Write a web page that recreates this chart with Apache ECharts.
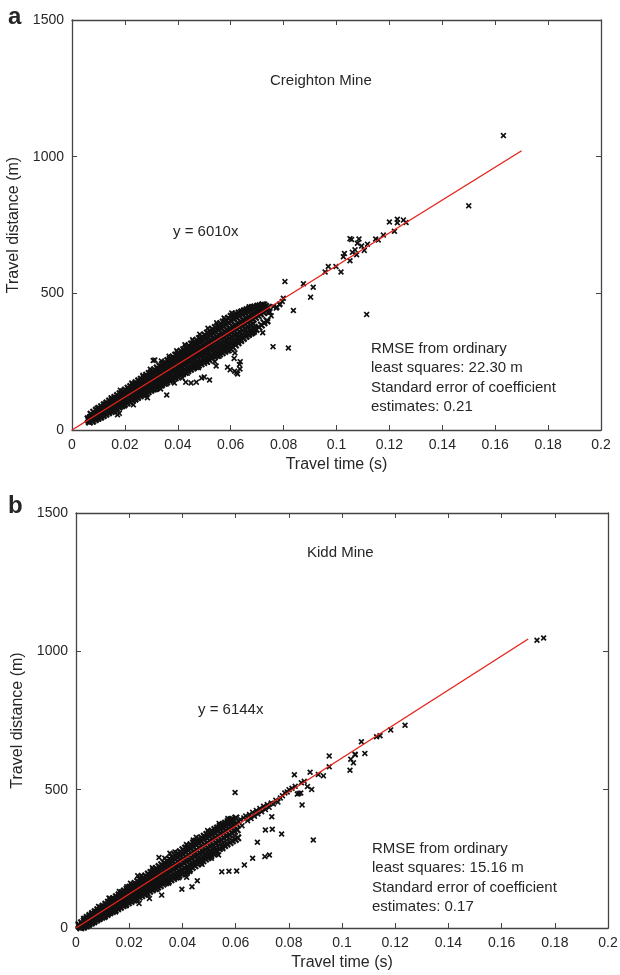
<!DOCTYPE html>
<html>
<head>
<meta charset="utf-8">
<script src="https://cdn.jsdelivr.net/npm/echarts@6/dist/echarts.min.js"></script>
<style>
    html, body { margin: 0; padding: 0; background: #fff; }
    #travelChart { width: 620px; height: 975px; }
</style>
</head>
<body>
<div id="travelChart"></div>
<script>
// axis ranges / ticks
var timeMin = 0, timeMax = 0.2, timeStep = 0.02;
var distMin = 0, distMax = 1500, distStep = 500;

// fitted coefficients (y = kx), line drawn up to fitEnd
var fitEnd = 0.17;
var creightonSlope = 6010;
var kiddSlope = 6144;

// a: Creighton Mine, [travel time (s), travel distance (m)]
var creightonBand = [
    [0.0061,41],[0.0064,35],[0.0066,29],[0.0069,44],
    [0.0071,47],[0.0073,38],[0.0076,33],[0.0078,50],
    [0.0082,53],[0.0084,45],[0.0087,39],[0.0089,58],
    [0.0091,60],[0.0094,51],[0.0096,44],[0.0098,63],
    [0.0101,68],[0.0103,57],[0.0106,49],[0.0108,72],
    [0.0112,75],[0.0114,62],[0.0117,54],[0.0119,80],
    [0.0121,83],[0.0124,69],[0.0126,60],[0.0129,77],
    [0.0131,90],[0.0133,75],[0.0136,66],[0.0138,86],
    [0.0142,96],[0.0144,82],[0.0147,70],[0.0149,91],
    [0.0151,103],[0.0153,88],[0.0156,75],[0.0159,97],
    [0.0161,109],[0.0164,94],[0.0166,80],[0.0168,104],
    [0.0171,116],[0.0173,100],[0.0176,86],[0.0179,110],
    [0.0181,122],[0.0184,106],[0.0186,90],[0.0188,117],
    [0.0192,129],[0.0194,111],[0.0197,96],[0.0199,123],
    [0.0201,136],[0.0203,118],[0.0206,101],[0.0209,128],
    [0.0211,142],[0.0214,123],[0.0216,106],[0.0218,135],
    [0.0221,149],[0.0223,130],[0.0226,112],[0.0229,141],
    [0.0232,156],[0.0234,135],[0.0237,117],[0.0239,147],
    [0.0241,163],[0.0243,142],[0.0246,122],[0.0248,154],
    [0.0251,169],[0.0254,148],[0.0256,128],[0.0259,160],
    [0.0261,176],[0.0263,154],[0.0266,133],[0.0268,166],
    [0.0272,183],[0.0274,160],[0.0277,138],[0.0279,173],
    [0.0281,189],[0.0283,166],[0.0286,144],[0.0289,179],
    [0.0291,196],[0.0294,172],[0.0296,149],[0.0298,185],
    [0.0301,202],[0.0304,178],[0.0306,155],[0.0309,191],
    [0.0311,209],[0.0313,184],[0.0316,160],[0.0318,198],
    [0.0322,215],[0.0324,190],[0.0327,165],[0.0329,204],
    [0.0331,222],[0.0333,196],[0.0336,171],[0.0338,210],
    [0.0341,229],[0.0344,202],[0.0346,176],[0.0349,216],
    [0.0351,235],[0.0353,208],[0.0356,182],[0.0358,222],
    [0.0362,242],[0.0364,214],[0.0367,187],[0.0369,229],
    [0.0371,248],[0.0373,220],[0.0376,193],[0.0378,235],
    [0.0381,255],[0.0384,226],[0.0386,198],[0.0388,241],
    [0.0391,262],[0.0393,232],[0.0396,203],[0.0399,247],
    [0.0402,268],[0.0404,238],[0.0406,209],[0.0409,254],
    [0.0411,275],[0.0413,244],[0.0416,214],[0.0418,260],
    [0.0421,281],[0.0424,250],[0.0426,219],[0.0428,266],
    [0.0431,288],[0.0433,256],[0.0436,225],[0.0439,272],
    [0.0442,294],[0.0444,262],[0.0447,230],[0.0449,279],
    [0.0451,301],[0.0453,268],[0.0456,236],[0.0458,285],
    [0.0461,308],[0.0464,274],[0.0466,241],[0.0468,291],
    [0.0471,314],[0.0473,280],[0.0476,246],[0.0479,297],
    [0.0481,321],[0.0484,286],[0.0486,252],[0.0488,303],
    [0.0492,327],[0.0494,292],[0.0497,257],[0.0499,310],
    [0.0501,334],[0.0503,298],[0.0506,262],[0.0508,316],
    [0.0511,340],[0.0514,304],[0.0516,268],[0.0519,322],
    [0.0521,347],[0.0523,310],[0.0526,273],[0.0528,328],
    [0.0532,354],[0.0534,316],[0.0537,279],[0.0539,335],
    [0.0541,360],[0.0543,322],[0.0546,284],[0.0548,341],
    [0.0551,367],[0.0554,328],[0.0556,289],[0.0558,347],
    [0.0561,373],[0.0563,334],[0.0566,295],[0.0569,353],
    [0.0572,380],[0.0574,340],[0.0577,300],[0.0579,360],
    [0.0581,386],[0.0583,346],[0.0586,306],[0.0588,366],
    [0.0591,393],[0.0594,352],[0.0596,311],[0.0598,372],
    [0.0601,399],[0.0604,358],[0.0606,316],[0.0609,378],
    [0.0611,406],[0.0613,364],[0.0616,322],[0.0618,384],
    [0.0622,412],[0.0624,370],[0.0627,327],[0.0629,391],
    [0.0631,418],[0.0633,376],[0.0636,333],[0.0638,397],
    [0.0641,424],[0.0644,382],[0.0646,338],[0.0648,403],
    [0.0651,430],[0.0653,388],[0.0656,344],[0.0659,409],
    [0.0661,436],[0.0664,394],[0.0666,349],[0.0668,415],
    [0.0672,441],[0.0674,400],[0.0677,355],[0.0679,421],
    [0.0681,446],[0.0683,406],[0.0686,360],[0.0688,427],
    [0.0691,450],[0.0694,412],[0.0696,368],[0.0698,433],
    [0.0702,453],[0.0704,418],[0.0707,376],[0.0709,438],
    [0.0711,455],[0.0713,424],[0.0716,384],[0.0718,442],
    [0.0721,458],[0.0724,430],[0.0726,392],[0.0728,446],
    [0.0732,452],[0.0734,436],[0.0737,400],
    [0.0741,448],[0.0744,430]
];
// outer edges and gaps of the dense cloud (upper, middle, lower per column)
var creightonBandEdge = [
    [0.0072,58],[0.0075,41],[0.0078,33],
    [0.0082,65],[0.0085,46],[0.0088,38],
    [0.0092,72],[0.0095,52],[0.0098,43],
    [0.0102,79],[0.0105,58],[0.0108,48],
    [0.0112,85],[0.0115,63],[0.0118,53],
    [0.0122,92],[0.0125,69],[0.0128,58],
    [0.0132,99],[0.0135,75],[0.0138,63],
    [0.0142,106],[0.0145,80],[0.0148,68],
    [0.0152,112],[0.0155,86],[0.0158,74],
    [0.0162,119],[0.0165,92],[0.0168,79],
    [0.0172,126],[0.0175,97],[0.0178,84],
    [0.0182,133],[0.0185,103],[0.0188,89],
    [0.0192,139],[0.0195,109],[0.0198,94],
    [0.0202,146],[0.0205,114],[0.0208,99],
    [0.0212,153],[0.0215,120],[0.0218,104],
    [0.0222,159],[0.0225,126],[0.0228,109],
    [0.0232,166],[0.0235,131],[0.0238,114],
    [0.0242,173],[0.0245,137],[0.0248,119],
    [0.0252,180],[0.0255,143],[0.0258,125],
    [0.0262,186],[0.0265,148],[0.0268,130],
    [0.0272,193],[0.0275,154],[0.0278,135],
    [0.0282,200],[0.0285,160],[0.0288,140],
    [0.0292,207],[0.0295,165],[0.0298,145],
    [0.0302,213],[0.0305,171],[0.0308,150],
    [0.0312,220],[0.0315,176],[0.0318,155],
    [0.0322,227],[0.0325,182],[0.0328,160],
    [0.0332,234],[0.0335,188],[0.0338,165],
    [0.0342,240],[0.0345,193],[0.0348,171],
    [0.0352,247],[0.0355,199],[0.0358,176],
    [0.0362,254],[0.0365,205],[0.0368,181],
    [0.0372,261],[0.0375,210],[0.0378,186],
    [0.0382,267],[0.0385,216],[0.0388,191],
    [0.0392,274],[0.0395,222],[0.0398,196],
    [0.0402,281],[0.0405,227],[0.0408,201],
    [0.0412,288],[0.0415,233],[0.0418,206],
    [0.0422,294],[0.0425,239],[0.0428,211],
    [0.0432,301],[0.0435,244],[0.0438,217],
    [0.0442,308],[0.0445,250],[0.0448,222],
    [0.0452,315],[0.0455,256],[0.0458,227],
    [0.0462,321],[0.0465,261],[0.0468,232],
    [0.0472,328],[0.0475,267],[0.0478,237],
    [0.0482,335],[0.0485,273],[0.0488,242],
    [0.0492,341],[0.0495,278],[0.0498,247],
    [0.0502,348],[0.0505,284],[0.0508,252],
    [0.0512,355],[0.0515,290],[0.0518,257],
    [0.0522,362],[0.0525,295],[0.0528,263],
    [0.0532,368],[0.0535,301],[0.0538,268],
    [0.0542,375],[0.0545,307],[0.0548,273],
    [0.0552,382],[0.0555,312],[0.0558,278],
    [0.0562,389],[0.0565,318],[0.0568,283],
    [0.0572,395],[0.0575,324],[0.0578,288],
    [0.0582,402],[0.0585,329],[0.0588,293],
    [0.0592,409],[0.0595,335],[0.0598,298],
    [0.0602,416],[0.0605,341],[0.0608,303],
    [0.0612,420],[0.0615,346],[0.0618,311],
    [0.0622,424],[0.0625,352],[0.0628,319],
    [0.0632,428],[0.0635,358],[0.0638,327],
    [0.0642,432],[0.0645,364],[0.0648,335],
    [0.0652,436],[0.0655,370],[0.0658,343],
    [0.0662,440],[0.0665,376],[0.0668,351],
    [0.0672,444],[0.0675,382],[0.0678,360],
    [0.0682,448],[0.0685,388],[0.0688,368]
];
var creightonScatter = [
    [0.0125,95],[0.0172,56],[0.0179,61],[0.0215,150],[0.0232,92],[0.0262,182],
    [0.0285,118],[0.0307,254],[0.0313,256],[0.0335,150],[0.0352,240],[0.0358,128],
    [0.0372,258],[0.0387,172],[0.0402,276],[0.0417,190],[0.0432,300],[0.043,175],
    [0.045,172],[0.047,175],[0.049,190],[0.050,194],[0.052,183],[0.0462,318],
    [0.0491,334],[0.0522,356],[0.0545,234],[0.054,250],[0.0552,376],[0.0581,398],
    [0.0588,230],[0.0598,220],[0.0611,418],[0.0615,215],[0.0622,210],[0.0626,205],
    [0.0635,223],[0.0633,240],[0.0636,250],[0.0613,262],[0.0616,282],[0.0641,434],
    [0.067,451],[0.0683,354],[0.0721,356],[0.074,396],[0.0729,460],[0.0748,432],
    [0.0753,418],[0.076,305],[0.0762,452],[0.0772,446],[0.0775,449],[0.0785,458],
    [0.0786,461],[0.0795,470],[0.0799,482],[0.0805,543],[0.0818,300],[0.0837,437],
    [0.0875,535],[0.0902,486],[0.0912,522],[0.0957,578],[0.0969,598],[0.0998,598],
    [0.1017,578],[0.1026,634],[0.103,646],[0.1051,619],[0.1051,700],[0.1057,697],
    [0.106,650],[0.107,659],[0.1076,641],[0.1079,683],[0.1085,699],[0.1095,673],
    [0.1105,657],[0.1114,423],[0.1117,680],[0.1148,699],[0.1158,695],[0.1177,713],
    [0.1219,727],[0.120,761],[0.123,771],[0.123,758],[0.1253,768],[0.1263,759],
    [0.150,820],[0.1631,1077],
    [0.0095,80],[0.0148,118],[0.0183,145],[0.0226,172],[0.0268,200],[0.0296,222],
    [0.0338,252],[0.0367,270],[0.0396,290],[0.0427,312],[0.0456,330],[0.0483,350],
    [0.0514,372],[0.0547,392],[0.0575,410],[0.0604,428],
    [0.0112,45],[0.0156,66],[0.0198,88],[0.0241,110],[0.0277,128],[0.0318,148],
    [0.0356,168],[0.0394,188],[0.0436,208],[0.0478,228],[0.0512,248],[0.0556,270],
    [0.0594,290]
];

// b: Kidd Mine
var kiddBand = [
    [0.0011,12],[0.0013,7],[0.0016,3],[0.0018,1],
    [0.0021,19],[0.0024,13],[0.0026,8],[0.0028,3],
    [0.0031,25],[0.0033,20],[0.0036,14],[0.0039,9],
    [0.0041,32],[0.0044,26],[0.0046,20],[0.0048,15],
    [0.0052,38],[0.0054,33],[0.0057,26],[0.0059,21],
    [0.0061,45],[0.0063,39],[0.0066,32],[0.0068,26],
    [0.0071,51],[0.0074,45],[0.0076,38],[0.0079,32],
    [0.0081,58],[0.0083,51],[0.0086,44],[0.0088,38],
    [0.0092,64],[0.0094,58],[0.0097,50],[0.0099,43],
    [0.0101,71],[0.0103,64],[0.0106,56],[0.0108,49],
    [0.0111,77],[0.0114,70],[0.0116,62],[0.0119,55],
    [0.0121,84],[0.0123,76],[0.0126,68],[0.0128,61],
    [0.0132,91],[0.0134,82],[0.0137,74],[0.0139,66],
    [0.0141,97],[0.0143,89],[0.0146,80],[0.0148,72],
    [0.0151,104],[0.0154,95],[0.0156,85],[0.0159,78],
    [0.0161,111],[0.0163,101],[0.0166,91],[0.0168,84],
    [0.0172,117],[0.0174,107],[0.0177,97],[0.0179,89],
    [0.0181,124],[0.0183,114],[0.0186,103],[0.0188,95],
    [0.0191,130],[0.0194,120],[0.0196,109],[0.0199,100],
    [0.0201,137],[0.0203,126],[0.0206,115],[0.0208,106],
    [0.0212,143],[0.0214,132],[0.0217,121],[0.0219,111],
    [0.0221,150],[0.0223,139],[0.0226,127],[0.0228,117],
    [0.0231,157],[0.0234,145],[0.0236,133],[0.0239,122],
    [0.0241,163],[0.0243,151],[0.0246,139],[0.0248,128],
    [0.0252,170],[0.0254,157],[0.0257,145],[0.0259,133],
    [0.0261,176],[0.0263,164],[0.0266,151],[0.0268,139],
    [0.0271,183],[0.0274,170],[0.0276,157],[0.0279,144],
    [0.0281,190],[0.0283,176],[0.0286,163],[0.0288,150],
    [0.0292,196],[0.0294,182],[0.0297,169],[0.0299,155],
    [0.0301,203],[0.0303,189],[0.0306,175],[0.0308,161],
    [0.0311,209],[0.0314,195],[0.0316,181],[0.0319,166],
    [0.0321,216],[0.0323,201],[0.0326,187],[0.0328,172],
    [0.0332,222],[0.0334,207],[0.0337,193],[0.0339,177],
    [0.0341,229],[0.0343,214],[0.0346,199],[0.0348,183],
    [0.0351,236],[0.0354,220],[0.0356,205],[0.0359,188],
    [0.0361,242],[0.0363,226],[0.0366,211],[0.0368,194],
    [0.0372,249],[0.0374,232],[0.0377,217],[0.0379,199],
    [0.0381,255],[0.0383,239],[0.0386,223],[0.0388,205],
    [0.0391,262],[0.0394,245],[0.0396,229],[0.0399,210],
    [0.0401,268],[0.0403,251],[0.0406,235],[0.0408,216],
    [0.0412,275],[0.0414,257],[0.0417,241],[0.0419,221],
    [0.0421,281],[0.0423,264],[0.0426,247],[0.0428,227],
    [0.0431,288],[0.0434,270],[0.0436,253],[0.0439,232],
    [0.0441,294],[0.0443,276],[0.0446,259],[0.0448,238],
    [0.0452,301],[0.0454,282],[0.0457,265],[0.0459,243],
    [0.0461,307],[0.0463,289],[0.0466,271],[0.0468,249],
    [0.0471,314],[0.0474,295],[0.0476,277],[0.0479,254],
    [0.0481,320],[0.0483,301],[0.0486,283],[0.0488,260],
    [0.0492,327],[0.0494,307],[0.0497,289],[0.0499,265],
    [0.0501,333],[0.0503,314],[0.0506,295],[0.0508,271],
    [0.0511,340],[0.0514,320],[0.0516,301],[0.0519,276],
    [0.0521,346],[0.0523,326],[0.0526,307],[0.0528,282],
    [0.0532,353],[0.0534,332],[0.0537,313],[0.0539,287],
    [0.0541,359],[0.0543,339],[0.0546,319],[0.0548,293],
    [0.0551,366],[0.0554,345],[0.0556,325],[0.0559,298],
    [0.0561,372],[0.0563,351],[0.0566,331],[0.0568,304],
    [0.0572,379],[0.0574,357],[0.0577,337],[0.0579,309],
    [0.0581,385],[0.0583,364],[0.0586,343],[0.0588,315],
    [0.0591,392],[0.0594,370],[0.0596,349],[0.0599,320],
    [0.0601,398],[0.0603,376],[0.0606,355],[0.0608,326]
];
var kiddBandEdge = [
    [0.0032,32],[0.0037,8],[0.0042,38],[0.0047,13],[0.0052,45],[0.0057,18],
    [0.0062,52],[0.0067,23],[0.0072,59],[0.0077,29],[0.0082,66],[0.0087,34],
    [0.0092,72],[0.0097,39],[0.0102,79],[0.0107,44],[0.0112,86],[0.0117,49],
    [0.0122,93],[0.0127,55],[0.0132,100],[0.0137,60],[0.0142,106],[0.0147,65],
    [0.0152,113],[0.0157,70],[0.0162,120],[0.0167,75],[0.0172,127],[0.0177,81],
    [0.0182,134],[0.0187,86],[0.0192,140],[0.0197,91],[0.0202,147],[0.0207,96],
    [0.0212,154],[0.0217,101],[0.0222,161],[0.0227,107],[0.0232,168],[0.0237,112],
    [0.0242,174],[0.0247,117],[0.0252,181],[0.0257,122],[0.0262,188],[0.0267,127],
    [0.0272,195],[0.0277,133],[0.0282,201],[0.0287,138],[0.0292,208],[0.0297,143],
    [0.0302,215],[0.0307,148],[0.0312,222],[0.0317,153],[0.0322,229],[0.0327,159],
    [0.0332,235],[0.0337,164],[0.0342,242],[0.0347,169],[0.0352,249],[0.0357,174],
    [0.0362,256],[0.0367,179],[0.0372,263],[0.0377,184],[0.0382,269],[0.0387,190],
    [0.0392,276],[0.0397,195],[0.0402,283],[0.0407,200],[0.0412,289],[0.0417,206],
    [0.0422,295],[0.0427,212],[0.0432,301],[0.0437,219],[0.0442,308],[0.0447,225],
    [0.0452,314],[0.0457,231],[0.0462,320],[0.0467,237],[0.0472,326],[0.0477,243],
    [0.0482,332],[0.0487,249],[0.0492,338],[0.0497,255],[0.0502,344],[0.0507,262],
    [0.0512,350],[0.0517,268],[0.0522,356],[0.0527,274],[0.0532,361],[0.0542,367],
    [0.0552,373],[0.0562,379],[0.0572,385],[0.0582,391]
];
var kiddScatter = [
    [0.0128,107],[0.0165,83],[0.0191,149],[0.0232,189],[0.0237,89],[0.0276,107],
    [0.0312,255],[0.0322,119],[0.0353,270],[0.0398,140],[0.0416,183],[0.0418,198],
    [0.0436,149],[0.0441,318],[0.0456,171],[0.0466,246],[0.0523,272],[0.0529,354],
    [0.0536,264],[0.0548,203],[0.0575,205],[0.0591,384],[0.0598,490],[0.0604,206],
    [0.0612,384],[0.0618,392],[0.0624,370],[0.0631,398],[0.0633,228],[0.0638,405],
    [0.0645,388],[0.0652,410],[0.0658,396],[0.0664,252],[0.0664,418],[0.0671,404],
    [0.0678,425],[0.0682,310],[0.0684,412],[0.0691,432],[0.0698,420],[0.0705,440],
    [0.071,258],[0.0712,354],[0.0712,428],[0.0719,446],[0.0726,436],[0.0727,264],
    [0.0734,452],[0.0736,402],[0.0738,357],[0.0742,448],[0.0751,462],[0.0759,455],
    [0.0768,470],[0.0773,340],[0.0776,478],[0.0785,488],[0.0794,492],[0.0801,500],
    [0.0812,505],[0.0821,554],[0.0824,512],[0.0832,484],[0.0838,486],[0.0845,488],
    [0.0847,525],[0.085,445],[0.0858,530],[0.087,511],[0.088,563],[0.0886,501],
    [0.0892,318],[0.0911,555],[0.093,550],[0.0952,583],[0.0952,622],[0.103,570],
    [0.1033,610],[0.1043,597],[0.1049,628],[0.105,626],[0.1073,673],[0.1086,631],
    [0.113,691],[0.1143,695],[0.1183,716],[0.1237,733],[0.1733,1040],[0.1758,1048],
    [0.0085,78],[0.0124,108],[0.0163,132],[0.0205,162],[0.0246,190],[0.0287,218],
    [0.0334,252],[0.0372,275],[0.0415,302],[0.0452,328],[0.0495,352],[0.0538,378],
    [0.0571,396],
    [0.0108,38],[0.0149,58],[0.0188,80],[0.0226,100],[0.0268,122],[0.0305,140],
    [0.0348,162],[0.0386,182],[0.0428,204],[0.0474,230],[0.0509,252],[0.0552,286]
];

var fontFamily = 'Liberation Sans, Arial, Helvetica, sans-serif';
var axisColor = '#444';
var textColor = '#262626';
// MATLAB style 'x' marker
var crossSymbol = 'path://M0,2L2,0L5,3L8,0L10,2L7,5L10,8L8,10L5,7L2,10L0,8L3,5Z';

function fitLine(slope) {
    return [[0, 0], [fitEnd, slope * fitEnd]];
}

function timeAxis(gridIndex, withLabels) {
    return {
        type: 'value',
        gridIndex: gridIndex,
        position: withLabels ? 'bottom' : 'top',
        min: timeMin,
        max: timeMax,
        interval: timeStep,
        name: withLabels ? 'Travel time (s)' : '',
        nameLocation: 'middle',
        nameGap: 27,
        nameTextStyle: { fontSize: 16, color: textColor, fontFamily: fontFamily },
        axisLine: { show: true, onZero: false, lineStyle: { color: axisColor, width: 1.3 } },
        axisTick: { show: true, inside: true, length: 5, lineStyle: { color: axisColor, width: 1 } },
        axisLabel: {
            show: withLabels, margin: 8, fontSize: 14, color: textColor, fontFamily: fontFamily,
            formatter: function(v) { return String(+v.toFixed(2)); }
        },
        splitLine: { show: false }
    };
}

function distAxis(gridIndex, withLabels, gap) {
    return {
        type: 'value',
        gridIndex: gridIndex,
        position: withLabels ? 'left' : 'right',
        min: distMin,
        max: distMax,
        interval: distStep,
        name: withLabels ? 'Travel distance (m)' : '',
        nameLocation: 'middle',
        nameGap: gap,
        nameTextStyle: { fontSize: 16, color: textColor, fontFamily: fontFamily },
        axisLine: { show: true, onZero: false, lineStyle: { color: axisColor, width: 1.3 } },
        axisTick: { show: true, inside: true, length: 5, lineStyle: { color: axisColor, width: 1 } },
        axisLabel: {
            show: withLabels, margin: 8, fontSize: 14, color: textColor, fontFamily: fontFamily,
            formatter: function(v) { return String(v); }
        },
        splitLine: { show: false }
    };
}

function note(text, left, top, size, bold) {
    return {
        type: 'text',
        left: left,
        top: top,
        z: 100,
        style: {
            text: text,
            fontSize: size,
            fontWeight: bold ? 'bold' : 'normal',
            fontFamily: fontFamily,
            lineHeight: 19.5,
            fill: textColor
        }
    };
}

// dense cloud gets a slightly larger cross so the overlapping marks merge
function scatterSeries(axisIndex, points, size) {
    return {
        type: 'scatter',
        xAxisIndex: axisIndex,
        yAxisIndex: axisIndex,
        symbol: crossSymbol,
        symbolSize: size,
        itemStyle: { color: '#111', opacity: 1 },
        data: points
    };
}

function fitSeries(axisIndex, slope) {
    return {
        type: 'line',
        xAxisIndex: axisIndex,
        yAxisIndex: axisIndex,
        showSymbol: false,
        z: 5,
        lineStyle: { color: '#e5231b', width: 1.4 },
        data: fitLine(slope)
    };
}

function initChart() {
    var myChart = echarts.init(document.getElementById('travelChart'));
    var option = {
        animation: false,
        backgroundColor: '#fff',
        grid: [
            { left: 72, top: 20, width: 529, height: 410, outerBoundsMode: 'none' },
            { left: 76, top: 513, width: 532, height: 415, outerBoundsMode: 'none' }
        ],
        xAxis: [timeAxis(0, true), timeAxis(0, false), timeAxis(1, true), timeAxis(1, false)],
        yAxis: [distAxis(0, true, 44), distAxis(0, false, 0), distAxis(1, true, 45), distAxis(1, false, 0)],
        graphic: [
            note('a', 8, 5, 24, true),
            note('b', 8, 494, 24, true),
            note('Creighton Mine', 270, 71, 15),
            note('y = 6010x', 173, 222, 15),
            note('RMSE from ordinary\nleast squares: 22.30 m\nStandard error of coefficient\nestimates: 0.21', 371, 339, 15),
            note('Kidd Mine', 307, 543, 15),
            note('y = 6144x', 198, 700, 15),
            note('RMSE from ordinary\nleast squares: 15.16 m\nStandard error of coefficient\nestimates: 0.17', 372, 839, 15)
        ],
        series: [
            scatterSeries(0, creightonBand.concat(creightonBandEdge), 8),
            scatterSeries(0, creightonScatter, 6),
            fitSeries(0, creightonSlope),
            scatterSeries(2, kiddBand.concat(kiddBandEdge), 8),
            scatterSeries(2, kiddScatter, 6),
            fitSeries(2, kiddSlope)
        ]
    };
    myChart.setOption(option);
}

initChart();
</script>
</body>
</html>
